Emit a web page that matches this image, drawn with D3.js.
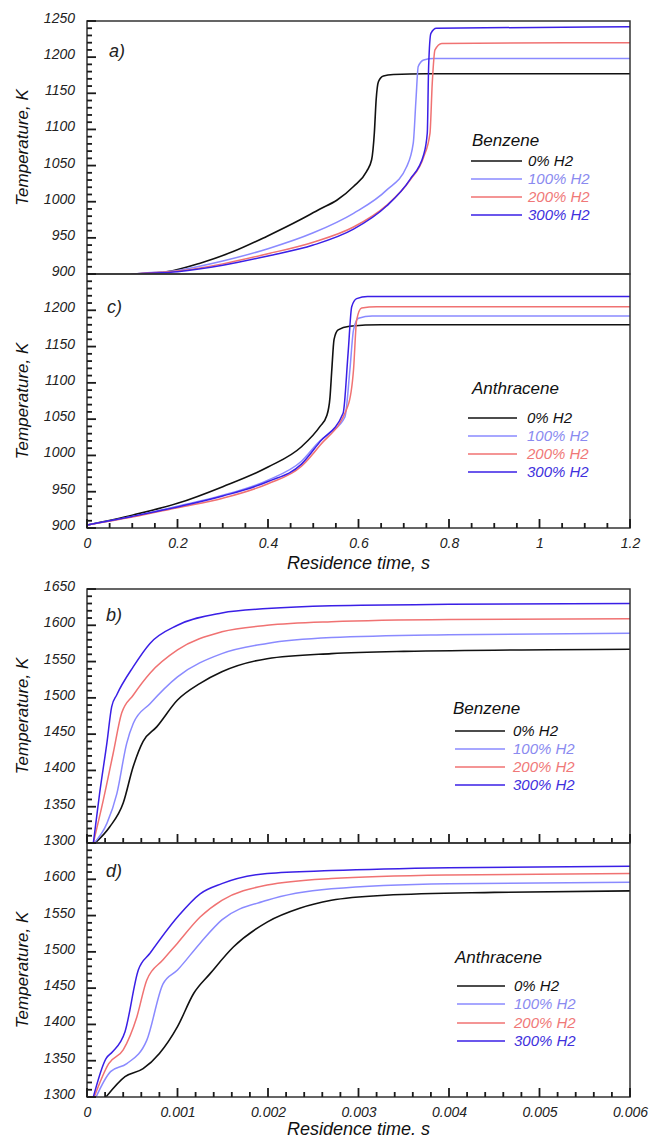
<!DOCTYPE html>
<html><head><meta charset="utf-8">
<script src="https://cdn.jsdelivr.net/npm/d3@7"></script>
<style>
body{margin:0;background:#fff;}
svg text{font-family:"Liberation Sans",Arial,sans-serif;font-style:italic;}
</style></head>
<body><svg id="chart" width="650" height="1139"></svg>
<script>
// ---------- DATA ----------
const seriesNames = ["0% H2", "100% H2", "200% H2", "300% H2"];
const seriesColors = ["#111111", "#8a8aff", "#f07272", "#3a1fe6"];
const seriesTextColors = ["#111111", "#8a8af0", "#f07878", "#4030dd"];

const xTicksSlow = [0, 0.2, 0.4, 0.6, 0.8, 1, 1.2];
const xTicksFast = [0, 0.001, 0.002, 0.003, 0.004, 0.005, 0.006];
const yTicksLow = [900, 950, 1000, 1050, 1100, 1150, 1200, 1250];
const yTicksHigh = [1300, 1350, 1400, 1450, 1500, 1550, 1600, 1650];

// Panel a) Benzene, slow scale
const benzeneA_0 = [[0.08,897],[0.095,899],[0.176,903],[0.25,915],[0.323,931],[0.397,952],[0.471,975],[0.515,990],[0.552,1002],[0.589,1021],[0.618,1042],[0.629,1058],[0.635,1095],[0.639,1141],[0.644,1166],[0.655,1174],[0.677,1176],[0.75,1177],[1.2,1177]];
const benzeneA_100 = [[0.08,897],[0.095,899],[0.2,905],[0.3,918],[0.4,935],[0.5,957],[0.589,984],[0.662,1016],[0.706,1048],[0.721,1081],[0.727,1141],[0.732,1187],[0.744,1196],[0.766,1198],[1.2,1198]];
const benzeneA_200 = [[0.08,897],[0.095,899],[0.2,904],[0.3,914],[0.4,928],[0.5,944],[0.589,965],[0.662,995],[0.714,1030],[0.744,1062],[0.758,1095],[0.763,1164],[0.769,1210],[0.784,1219],[1.2,1220]];
const benzeneA_300 = [[0.08,897],[0.095,899],[0.2,903],[0.3,912],[0.4,925],[0.5,940],[0.589,962],[0.662,994],[0.714,1031],[0.744,1065],[0.752,1095],[0.755,1187],[0.760,1233],[0.772,1240],[1.2,1242]];

// Panel c) Anthracene, slow scale
const anthraceneC_0 = [[0,904],[0.102,918],[0.2,934],[0.3,957],[0.4,984],[0.474,1012],[0.515,1040],[0.53,1055],[0.537,1080],[0.541,1118],[0.546,1160],[0.555,1173],[0.58,1178],[0.65,1180],[1.2,1180]];
const anthraceneC_100 = [[0,904],[0.1,916],[0.2,930],[0.3,945],[0.4,966],[0.474,992],[0.515,1020],[0.537,1031],[0.570,1053],[0.581,1118],[0.589,1173],[0.600,1189],[0.63,1192],[1.2,1192]];
const anthraceneC_200 = [[0,904],[0.1,915],[0.2,928],[0.3,941],[0.4,961],[0.474,985],[0.515,1014],[0.577,1069],[0.589,1118],[0.596,1187],[0.607,1203],[0.64,1205],[1.2,1205]];
const anthraceneC_300 = [[0,904],[0.1,916],[0.2,929],[0.3,944],[0.4,964],[0.474,988],[0.515,1019],[0.566,1058],[0.577,1141],[0.585,1205],[0.596,1216],[0.62,1219],[1.2,1219]];

// Panel b) Benzene, fast scale
const benzeneB_0 = [[0.00009,1300],[0.00025,1322],[0.0004,1355],[0.00051,1405],[0.00062,1440],[0.00077,1460],[0.001,1497],[0.00125,1520],[0.00149,1536],[0.00199,1554],[0.0027,1561],[0.0035,1564],[0.006,1567]];
const benzeneB_100 = [[0.00008,1300],[0.00022,1327],[0.00033,1368],[0.000438,1437],[0.000512,1465],[0.000696,1492],[0.001,1529],[0.00149,1561],[0.00199,1575],[0.0027,1583],[0.004,1587],[0.006,1589]];
const benzeneB_200 = [[0.00007,1300],[0.00018,1359],[0.00029,1424],[0.000383,1479],[0.000512,1504],[0.000696,1534],[0.001,1566],[0.00149,1591],[0.00199,1600],[0.0027,1605],[0.004,1608],[0.006,1609]];
const benzeneB_300 = [[0.00007,1300],[0.00014,1369],[0.00022,1438],[0.000273,1488],[0.000328,1504],[0.000512,1543],[0.000696,1575],[0.001,1600],[0.00149,1617],[0.00199,1623],[0.0027,1627],[0.004,1629],[0.006,1630]];

// Panel d) Anthracene, fast scale
const anthraceneD_0 = [[0.00021,1300],[0.00042,1328],[0.00062,1339],[0.0008,1360],[0.001,1397],[0.00118,1443],[0.00136,1470],[0.00162,1507],[0.00199,1541],[0.00235,1560],[0.0027,1571],[0.0033,1578],[0.0045,1582],[0.006,1584]];
const anthraceneD_100 = [[0.0001,1300],[0.00026,1335],[0.00044,1346],[0.00066,1378],[0.00084,1456],[0.001,1475],[0.00125,1512],[0.00149,1544],[0.00199,1571],[0.0027,1587],[0.004,1594],[0.006,1596]];
const anthraceneD_200 = [[0.00008,1300],[0.00024,1346],[0.0004,1365],[0.00055,1410],[0.00066,1461],[0.00084,1489],[0.001,1512],[0.00125,1548],[0.00149,1571],[0.00199,1592],[0.0027,1601],[0.004,1606],[0.006,1608]];
const anthraceneD_300 = [[0.00007,1300],[0.00021,1353],[0.00028,1362],[0.00042,1390],[0.000567,1475],[0.000696,1498],[0.001,1548],[0.00125,1580],[0.00149,1594],[0.00199,1608],[0.0027,1612],[0.004,1616],[0.006,1618]];

// ---------- LAYOUT ----------
const svg = d3.select("#chart");
const L = 87, R = 630;
const majorLen = 9, minorLen = 5, tickWidth = 1.8;

const panels = [
  {tag:"a)", top:21, bottom:274, xDom:[0,1.2], yDom:[900,1250], yLabels:yTicksLow, yMinorStep:10, xMinorStep:0.05,
   xTicks:null, xTickMarks:false, series:[benzeneA_0,benzeneA_100,benzeneA_200,benzeneA_300],
   legend:{title:"Benzene", tx:472, ty:146, x1:471, x2:522, textX:528, ys:[161,179,197,215]}, tagPos:[109,57]},
  {tag:"c)", top:274, bottom:528, xDom:[0,1.2], yDom:[900,1250], yLabels:yTicksLow.slice(0,7), yMinorStep:10, xMinorStep:0.05,
   xTicks:xTicksSlow, xTickMarks:true, series:[anthraceneC_0,anthraceneC_100,anthraceneC_200,anthraceneC_300],
   legend:{title:"Anthracene", tx:472, ty:394, x1:468, x2:517, textX:527, ys:[418,436,454,472]}, tagPos:[107,313],
   xTitle:"Residence time, s", xTitleY:569},
  {tag:"b)", top:589, bottom:843, xDom:[0,0.006], yDom:[1300,1650], yLabels:yTicksHigh, yMinorStep:10, xMinorStep:0.0002,
   xTicks:null, xTickMarks:true, series:[benzeneB_0,benzeneB_100,benzeneB_200,benzeneB_300],
   legend:{title:"Benzene", tx:453, ty:714, x1:455, x2:505, textX:513, ys:[731,749,767,785]}, tagPos:[106,621]},
  {tag:"d)", top:843, bottom:1097, xDom:[0,0.006], yDom:[1300,1650], yLabels:yTicksHigh.slice(0,7), yMinorStep:10, xMinorStep:0.0002,
   xTicks:xTicksFast, xTickMarks:true, series:[anthraceneD_0,anthraceneD_100,anthraceneD_200,anthraceneD_300],
   legend:{title:"Anthracene", tx:455, ty:963, x1:457, x2:505, textX:514, ys:[986,1004,1023,1041]}, tagPos:[106,877],
   xTitle:"Residence time. s", xTitleY:1135}
];

panels.forEach((p, i) => {
  const x = d3.scaleLinear().domain(p.xDom).range([L, R]);
  const y = d3.scaleLinear().domain(p.yDom).range([p.bottom, p.top]);
  const g = svg.append("g");

  const clipId = "clip" + i;
  svg.append("clipPath").attr("id", clipId).append("rect")
    .attr("x", L).attr("y", p.top).attr("width", R - L).attr("height", p.bottom - p.top);

  const line = d3.line().x(d => x(d[0])).y(d => y(d[1])).curve(d3.curveMonotoneX);
  const lg = g.append("g").attr("clip-path", `url(#${clipId})`);
  p.series.forEach((s, k) => {
    lg.append("path").datum(s).attr("d", line).attr("fill", "none")
      .attr("stroke", seriesColors[k]).attr("stroke-width", k === 0 ? 1.6 : 1.5);
  });

  g.append("rect").attr("x", L).attr("y", p.top).attr("width", R - L).attr("height", p.bottom - p.top)
    .attr("fill", "none").attr("stroke", "#333").attr("stroke-width", 1.5);

  const yAx = d3.axisLeft(y).tickValues(p.yLabels).tickSize(0).tickPadding(12).tickFormat(d => String(d));
  const gy = g.append("g").attr("transform", `translate(${L},-3)`).call(yAx);
  gy.select(".domain").remove();
  gy.selectAll("line").remove();
  gy.selectAll("text").attr("font-size", 14).attr("fill", "#222");

  const yMajor = d3.range(p.yDom[0], p.yDom[1] + 0.001, 50);
  const yMinor = d3.range(p.yDom[0], p.yDom[1] + 0.001, p.yMinorStep);
  const tg = g.append("g").attr("fill", "#1a1a1a");
  yMinor.forEach(d => {
    tg.append("rect").attr("x", L).attr("y", y(d) - tickWidth / 2)
      .attr("width", yMajor.includes(d) ? majorLen : minorLen).attr("height", tickWidth);
  });
  if (p.xTickMarks) {
    const nMinor = Math.round((p.xDom[1] - p.xDom[0]) / p.xMinorStep);
    const xMajorVals = p.xDom[1] > 0.1 ? xTicksSlow : xTicksFast;
    const perMajor = Math.round(nMinor / (xMajorVals.length - 1));
    for (let k = 0; k <= nMinor; k++) {
      const xx = x(p.xDom[0] + k * p.xMinorStep);
      const len = k % perMajor === 0 ? majorLen : minorLen;
      tg.append("rect").attr("x", xx - tickWidth / 2).attr("y", p.bottom - len)
        .attr("width", tickWidth).attr("height", len);
    }
    if (p.xTicks) {
      const xAx = d3.axisBottom(x).tickValues(xMajorVals).tickSize(0).tickPadding(10)
        .tickFormat((d, k) => String(p.xTicks[k]));
      const gx = g.append("g").attr("transform", `translate(0,${p.bottom})`).call(xAx);
      gx.select(".domain").remove();
      gx.selectAll("line").remove();
      gx.selectAll("text").attr("font-size", 14).attr("fill", "#222");
    }
  }

  g.append("text").attr("x", p.tagPos[0]).attr("y", p.tagPos[1]).attr("font-size", 18).attr("fill", "#222").text(p.tag);

  const lgd = g.append("g");
  lgd.append("text").attr("x", p.legend.tx).attr("y", p.legend.ty).attr("font-size", 17).attr("fill", "#111").text(p.legend.title);
  seriesNames.forEach((n, k) => {
    const yy = p.legend.ys[k];
    lgd.append("line").attr("x1", p.legend.x1).attr("x2", p.legend.x2).attr("y1", yy).attr("y2", yy)
      .attr("stroke", seriesColors[k]).attr("stroke-width", 1.5);
    lgd.append("text").attr("x", p.legend.textX).attr("y", yy).attr("dy", "0.35em").attr("font-size", 15)
      .attr("fill", seriesTextColors[k]).text(n);
  });

  g.append("text").attr("transform", `translate(28,${(p.top + p.bottom) / 2}) rotate(-90)`)
    .attr("text-anchor", "middle").attr("font-size", 17).attr("fill", "#111").text("Temperature, K");

  if (p.xTitle) {
    g.append("text").attr("x", (L + R) / 2).attr("y", p.xTitleY).attr("text-anchor", "middle")
      .attr("font-size", 18).attr("fill", "#111").text(p.xTitle);
  }
});
</script>
</body></html>
